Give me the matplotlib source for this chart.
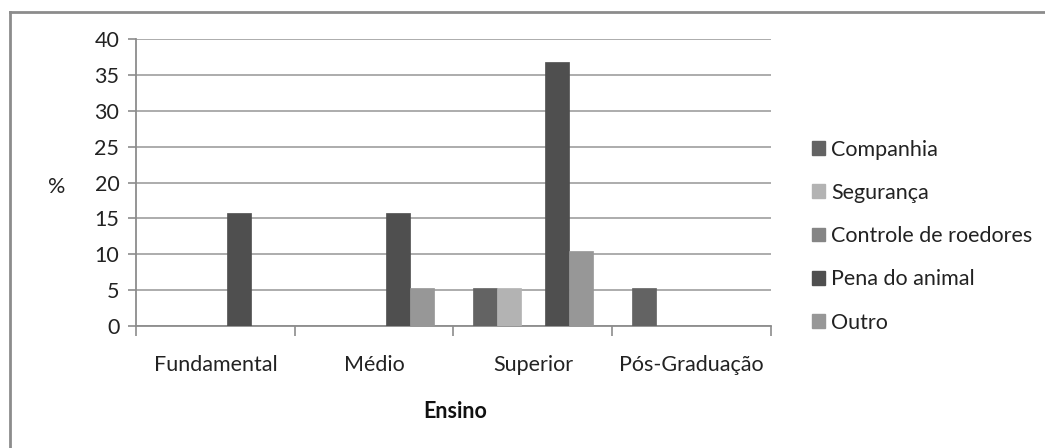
import numpy as np
import matplotlib
matplotlib.use("Agg")
import matplotlib.pyplot as plt
from matplotlib.lines import Line2D
from matplotlib.patches import Patch

plt.rcParams['font.family'] = ['Lato', 'DejaVu Sans']

categories = ["Fundamental", "Médio", "Superior", "Pós-Graduação"]
series_names = ["Companhia", "Segurança", "Controle de roedores", "Pena do animal", "Outro"]
companhia = [0, 0, 5.3, 5.3]
seguranca = [0, 0, 5.3, 0]
controle = [0, 0, 0, 0]
pena = [15.8, 15.8, 36.8, 0]
outro = [0, 5.3, 10.5, 0]
series_values = [companhia, seguranca, controle, pena, outro]
colors = ["#636363", "#b3b3b3", "#858585", "#4f4f4f", "#979797"]
yticks = [0, 5, 10, 15, 20, 25, 30, 35, 40]

W, H = 1045, 448
fig = plt.figure(figsize=(W / 100, H / 100), dpi=100)
ax = fig.add_axes([136 / W, 1 - 326 / H, (771 - 136) / W, (326 - 39) / H])

x = np.arange(len(categories))
bw = 0.151
for i, (vals, col) in enumerate(zip(series_values, colors)):
    ax.bar(x + (i - 2) * bw, vals, width=bw, color=col, zorder=3,
           edgecolor=col, linewidth=0.5)

ax.set_xlim(-0.5, len(categories) - 0.5)
ax.set_ylim(0, 40)
ax.set_yticks(yticks)
ax.set_yticklabels([str(v) for v in yticks], fontsize=15.5, color="#222222")
ax.yaxis.grid(True, color="#a6a6a6", linewidth=1.3, zorder=0)

# category labels between boundary ticks
ax.set_xticks(np.arange(len(categories) + 1) - 0.5)
ax.set_xticklabels([])
ax.set_xticks(x, minor=True)
ax.set_xticklabels(categories, minor=True, fontsize=15.5, color="#222222")
ax.tick_params(axis="x", which="minor", length=0, pad=21)
ax.tick_params(axis="x", which="major", length=7, color="#8c8c8c", width=1.2)
ax.tick_params(axis="y", length=6, color="#8c8c8c", width=1.2, pad=6)

for s in ["top", "right"]:
    ax.spines[s].set_visible(False)
for s in ["left", "bottom"]:
    ax.spines[s].set_color("#8c8c8c")
    ax.spines[s].set_linewidth(1.3)

fig.text(455 / W, 1 - 412 / H, "Ensino", ha="center", va="center",
         fontsize=15.5, fontweight="bold", color="#111111")
fig.text(57 / W, 1 - 187 / H, "%", ha="center", va="center",
         fontsize=15.5, color="#222222")

handles = [Patch(facecolor=c, edgecolor=c) for c in colors]
fig.legend(handles, series_names, loc="upper left",
           bbox_to_anchor=(803 / W, 1 - 131 / H), frameon=False,
           fontsize=15.5, handlelength=0.6, handleheight=0.6,
           handletextpad=0.3, labelspacing=1.08, borderaxespad=0,
           labelcolor="#222222")

# outer frame
fig.add_artist(Line2D([10 / W, 10 / W], [0, 1 - 12 / H], transform=fig.transFigure,
                      color="#8c8c8c", linewidth=2))
fig.add_artist(Line2D([10 / W, 1], [1 - 12 / H, 1 - 12 / H], transform=fig.transFigure,
                      color="#8c8c8c", linewidth=2))

fig.savefig("out.png", dpi=100, facecolor="white")
